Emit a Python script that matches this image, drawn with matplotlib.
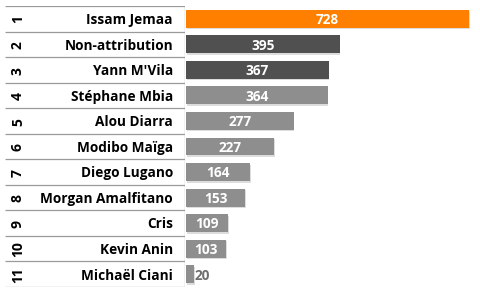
import matplotlib
matplotlib.use("Agg")
import matplotlib.pyplot as plt

ranks = ["1", "2", "3", "4", "5", "6", "7", "8", "9", "10", "11"]
names = ["Issam Jemaa", "Non-attribution", "Yann M'Vila", "Stéphane Mbia", "Alou Diarra",
         "Modibo Maïga", "Diego Lugano", "Morgan Amalfitano", "Cris", "Kevin Anin", "Michaël Ciani"]
values = [728, 395, 367, 364, 277, 227, 164, 153, 109, 103, 20]
colors = ["#FF7F00", "#505050", "#505050"] + ["#8E8E8E"] * 8

W, H = 480, 292
fig = plt.figure(figsize=(W / 100, H / 100), dpi=100)
fig.patch.set_facecolor("white")
plt.rcParams['font.family'] = ['Open Sans', 'DejaVu Sans']

top_px, bot_px = 6, 287
n = len(values)
y0 = (H - bot_px) / H
hh = (bot_px - top_px) / H

# table axes
tx0, tx1 = 5, 185
tax = fig.add_axes([tx0 / W, y0, (tx1 - tx0) / W, hh])
tax.set_xlim(0, 1)
tax.set_ylim(n - 0.5, -0.5)
tax.axis("off")
for i in range(n + 1):
    tax.plot([0, 1], [i - 0.5, i - 0.5], color="#9A9A9A", lw=0.9, solid_capstyle="butt")
tax.plot([1, 1], [-0.5, n - 0.5], color="#9A9A9A", lw=0.9)
for i, (r, nm) in enumerate(zip(ranks, names)):
    tax.text(13 / 180, i + 0.03, r, rotation=90, ha="center", va="center",
             fontsize=10, fontweight="bold", color="#000000")
    tax.text(168 / 180, i + 0.05, nm, ha="right", va="center",
             fontsize=9.8, fontweight="bold", color="#000000")

# bar axes
bx0 = 186
ax = fig.add_axes([bx0 / W, y0, (W - bx0) / W, hh])
scale = 283 / 728  # px per unit
ax.set_xlim(0, (W - bx0) / scale)
ax.set_ylim(n - 0.5, -0.5)
ax.axis("off")
ypos = list(range(n))
# subtle shadow
ax.barh([y + 0.06 for y in ypos], values, height=0.7, left=2, color="#DDDDDD", zorder=1)
ax.barh(ypos, values, height=0.7, color=colors, zorder=2)
for y, v in zip(ypos, values):
    if v >= 60:
        ax.text(v / 2, y + 0.05, str(v), ha="center", va="center", color="white",
                fontsize=9.8, fontweight="bold", zorder=3)
    else:
        ax.text(v + 3, y + 0.05, str(v), ha="left", va="center", color="#6E6E6E",
                fontsize=9.8, fontweight="bold", zorder=3)

fig.savefig("out.png", dpi=100)
